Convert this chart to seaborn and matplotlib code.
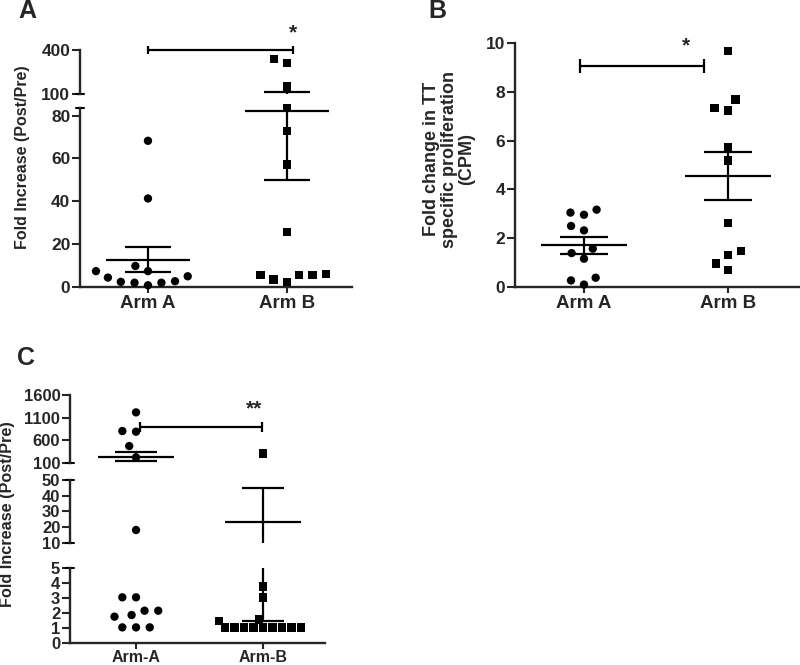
import numpy as np
import pandas as pd
import seaborn as sns

import matplotlib
matplotlib.use('Agg')
import matplotlib.pyplot as plt
from matplotlib.patches import Rectangle

#----------DATA----------

arms_ab = ["Arm A", "Arm B"]
arms_c = ["Arm-A", "Arm-B"]

# panel A: fold increase (Post/Pre)
a_arm_a = [5.0, 2.7, 7.4, 2.0, 7.4, 0.8, 9.8, 2.0, 2.4, 4.4, 68.2, 41.3]
a_arm_b = [310, 337, 152, 83.5, 72.9, 57.2, 25.7, 5.5, 5.5, 2.4, 3.5, 5.5, 6.0]

# panel B: fold change in TT specific proliferation (CPM)
b_arm_a = [3.05, 2.96, 3.17, 2.32, 2.5, 1.39, 1.57, 1.16, 0.38, 0.27, 0.1]
b_arm_b = [9.67, 7.69, 7.24, 7.34, 5.74, 5.19, 2.62, 1.48, 1.30, 0.96, 0.71]

# panel C: fold increase (Post/Pre)
c_arm_a = [1215, 802, 787, 469, 218, 18.1, 3.05, 3.05, 2.15, 1.86, 2.15, 1.75, 1.03, 1.03, 1.03]
c_arm_b = [307, 3.77, 3.03, 1.57, 1.48, 1.03, 1.03, 1.03, 1.03, 1.03, 1.03, 1.03, 1.03, 1.03]

# broken y axis segments and their ticks
a_segments = [(0, 83.5), (100, 400)]
a_ticks = [[0, 20, 40, 60, 80], [100, 400]]
b_segments = [(0, 10)]
b_ticks = [[0, 2, 4, 6, 8, 10]]
c_segments = [(0, 5), (10, 50), (100, 1600)]
c_ticks = [[0, 1, 2, 3, 4, 5], [10, 20, 30, 40, 50], [100, 600, 1100, 1600]]

ylabel_a = "Fold Increase (Post/Pre)"
ylabel_b = "Fold change in TT\nspecific proliferation\n(CPM)"
ylabel_c = "Fold Increase (Post/Pre)"


def make_df(order, first, second):
    return pd.DataFrame({"arm": [order[0]] * len(first) + [order[1]] * len(second),
                         "value": first + second})


df_a = make_df(arms_ab, a_arm_a, a_arm_b)
df_b = make_df(arms_ab, b_arm_a, b_arm_b)
df_c = make_df(arms_c, c_arm_a, c_arm_b)

#--------------DATAVIS----------------

sns.set_style("ticks")
plt.rcParams['font.family'] = ['Liberation Sans', 'DejaVu Sans']
plt.rcParams['font.weight'] = 'bold'

W, H = 800, 665
fig = plt.figure(figsize=(W / 100, H / 100), dpi=100)


def px_axes(x0, x1, y_top, y_bot):
    return fig.add_axes([x0 / W, 1 - y_bot / H, (x1 - x0) / W, (y_bot - y_top) / H])


def draw_panel(df, order, segments, ticks, x0, x1, seg_px, xlim, gaps, ytick_fs, xtick_fs):
    stats = df.groupby("arm")["value"].agg(["mean", "sem"]).reindex(order)
    pos = np.arange(len(order))
    axes = []
    for i, ((lo, hi), tk, (yt, yb)) in enumerate(zip(segments, ticks, seg_px)):
        ax = px_axes(x0, x1, yt, yb)
        sub = df[(df["value"] >= lo) & (df["value"] <= hi)]
        for arm, marker, gap in zip(order, ["o", "s"], gaps):
            d = sub[sub["arm"] == arm]
            if len(d):
                # invisible edge width only widens the swarm spacing
                sns.swarmplot(data=d, x="arm", y="value", order=order, marker=marker,
                              color="black", size=6, edgecolor="none", linewidth=gap,
                              clip_on=False, ax=ax, zorder=3)
        kw = dict(color="black", lw=1.6, zorder=4)
        ax.hlines(stats["mean"], pos - 0.3, pos + 0.3, **kw)
        ax.hlines(stats["mean"] + stats["sem"], pos - 0.165, pos + 0.165, **kw)
        ax.hlines(stats["mean"] - stats["sem"], pos - 0.165, pos + 0.165, **kw)
        ax.vlines(pos, stats["mean"] - stats["sem"], stats["mean"] + stats["sem"], **kw)
        ax.set_xlim(xlim)
        ax.set_ylim(lo, hi)
        ax.set_yticks(tk)
        ax.set_xlabel("")
        ax.set_ylabel("")
        for s in ["top", "right"]:
            ax.spines[s].set_visible(False)
        ax.spines["left"].set_linewidth(1.7)
        ax.spines["bottom"].set_linewidth(1.7)
        ax.tick_params(axis="y", direction="out", length=6, width=1.5, pad=1,
                       labelsize=ytick_fs)
        if i == 0:
            ax.set_xticks(pos)
            ax.set_xticklabels(order)
            ax.tick_params(axis="x", direction="out", length=4, width=1.5, pad=1.5,
                           labelsize=xtick_fs)
        else:
            ax.spines["bottom"].set_visible(False)
            ax.set_xticks([])
        # small caps at the break ends of the spine
        stub = 4 / (x1 - x0)
        trans = ax.get_yaxis_transform()
        if len(segments) > 1:
            if i > 0:
                ax.plot([-stub, stub], [lo, lo], color="black", lw=1.5, transform=trans, clip_on=False)
            if i < len(segments) - 1:
                ax.plot([-stub, stub], [hi, hi], color="black", lw=1.5, transform=trans, clip_on=False)
        axes.append(ax)
    return axes


# ---- panel A ----
axA = draw_panel(df_a, arms_ab, a_segments, a_ticks, 80, 352,
                 [(108, 287), (50, 94)], (-0.489, 1.468), (3.4, 3.4), 12.5, 13.5)
top = axA[-1]
top.plot([0, 1.04], [400, 400], color="black", lw=1.6, clip_on=False)
top.vlines([0, 1.04], 400 - 27, 400 + 27, color="black", lw=1.6, clip_on=False)
top.text(1.04, 450, "*", ha="center", va="bottom", fontsize=15)

# ---- panel B ----
axB = draw_panel(df_b, arms_ab, b_segments, b_ticks, 515, 800,
                 [(43, 287)], (-0.479, 1.5), (3.4, 3.4), 12.5, 13.5)
bb = axB[0]
bb.plot([-0.03, 0.83], [9.04, 9.04], color="black", lw=1.6, clip_on=False)
bb.vlines([-0.03, 0.83], 9.04 - 0.29, 9.04 + 0.29, color="black", lw=1.6)
bb.text(0.71, 9.5, "*", ha="center", va="bottom", fontsize=15)

# ---- panel C ----
axC = draw_panel(df_c, arms_c, c_segments, c_ticks, 70, 325,
                 [(568.3, 642.7), (480, 542.7), (395, 462.7)], (-0.52, 1.488), (3.4, 0.5),
                 12, 11.5)
tc = axC[-1]
tc.plot([0.03, 0.99], [898, 898], color="black", lw=1.6, clip_on=False)
tc.vlines([0.03, 0.99], 898 - 111, 898 + 111, color="black", lw=1.6)
tc.text(0.93, 1090, "**", ha="center", va="bottom", fontsize=15)

# ---- labels ----
fig.text(23 / W, 1 - 157 / H, ylabel_a, rotation=90, ha="center", va="center", fontsize=11.5)
fig.text(449 / W, 1 - 159 / H, ylabel_b, rotation=90, ha="center", va="center",
         fontsize=13, multialignment="center", linespacing=1.05)
fig.text(8 / W, 1 - 514 / H, ylabel_c, rotation=90, ha="center", va="center", fontsize=11.7)

fig.text(27 / W, 1 - 11.5 / H, "A", ha="center", va="center", fontsize=18)
fig.text(437 / W, 1 - 11.5 / H, "B", ha="center", va="center", fontsize=18)
fig.text(26 / W, 1 - 357.5 / H, "C", ha="center", va="center", fontsize=18)

# hide a stray speck the unclipped swarm markers leave in the bottom-left corner
fig.add_artist(Rectangle((0, 0), 8 / W, 14 / H, transform=fig.transFigure,
                         facecolor="white", edgecolor="none", zorder=100))

fig.savefig("out.png", dpi=100)
